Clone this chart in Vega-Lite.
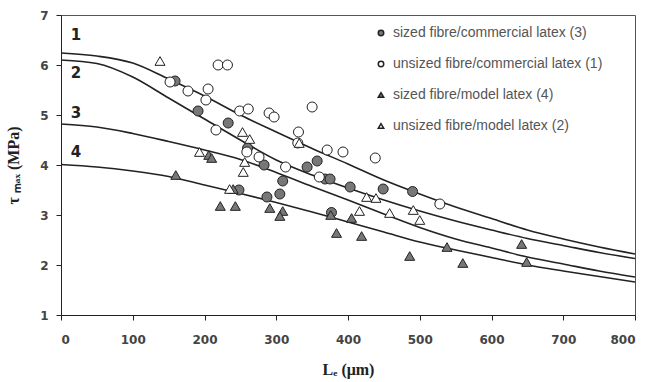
{
  "$schema": "https://vega.github.io/schema/vega-lite/v6.json",
  "autosize": "none",
  "width": 574,
  "height": 300,
  "padding": {"left": 61, "top": 15, "right": 14, "bottom": 67},
  "background": "white",
  "config": {
    "view": {"stroke": "#555", "strokeWidth": 1},
    "axis": {"grid": false, "domainColor": "#222", "tickColor": "#222", "labelFont": "DejaVu Sans", "labelFontSize": 12, "labelFontWeight": "bold", "labelColor": "#444", "titleFont": "Liberation Serif", "titleFontSize": 16, "titleFontWeight": "bold", "titleColor": "#222"}
  },
  "datasets": {
    "curves": [
      {"c": "1", "L": 0, "v": 6.24}, {"c": "1", "L": 50, "v": 6.18}, {"c": "1", "L": 100, "v": 6.04}, {"c": "1", "L": 150, "v": 5.72}, {"c": "1", "L": 200, "v": 5.38}, {"c": "1", "L": 250, "v": 5.0}, {"c": "1", "L": 300, "v": 4.66}, {"c": "1", "L": 350, "v": 4.33}, {"c": "1", "L": 400, "v": 4.02}, {"c": "1", "L": 450, "v": 3.7}, {"c": "1", "L": 500, "v": 3.42}, {"c": "1", "L": 550, "v": 3.16}, {"c": "1", "L": 600, "v": 2.93}, {"c": "1", "L": 650, "v": 2.7}, {"c": "1", "L": 700, "v": 2.52}, {"c": "1", "L": 750, "v": 2.36}, {"c": "1", "L": 800, "v": 2.22},
      {"c": "2", "L": 0, "v": 6.1}, {"c": "2", "L": 50, "v": 6.03}, {"c": "2", "L": 100, "v": 5.76}, {"c": "2", "L": 150, "v": 5.34}, {"c": "2", "L": 200, "v": 4.92}, {"c": "2", "L": 250, "v": 4.5}, {"c": "2", "L": 300, "v": 4.1}, {"c": "2", "L": 350, "v": 3.8}, {"c": "2", "L": 400, "v": 3.54}, {"c": "2", "L": 450, "v": 3.3}, {"c": "2", "L": 500, "v": 3.08}, {"c": "2", "L": 550, "v": 2.88}, {"c": "2", "L": 600, "v": 2.7}, {"c": "2", "L": 650, "v": 2.53}, {"c": "2", "L": 700, "v": 2.39}, {"c": "2", "L": 750, "v": 2.25}, {"c": "2", "L": 800, "v": 2.13},
      {"c": "3", "L": 0, "v": 4.82}, {"c": "3", "L": 50, "v": 4.76}, {"c": "3", "L": 100, "v": 4.63}, {"c": "3", "L": 150, "v": 4.47}, {"c": "3", "L": 200, "v": 4.3}, {"c": "3", "L": 250, "v": 4.11}, {"c": "3", "L": 300, "v": 3.85}, {"c": "3", "L": 350, "v": 3.57}, {"c": "3", "L": 400, "v": 3.3}, {"c": "3", "L": 450, "v": 3.02}, {"c": "3", "L": 500, "v": 2.75}, {"c": "3", "L": 550, "v": 2.52}, {"c": "3", "L": 600, "v": 2.34}, {"c": "3", "L": 650, "v": 2.16}, {"c": "3", "L": 700, "v": 2.02}, {"c": "3", "L": 750, "v": 1.88}, {"c": "3", "L": 800, "v": 1.76},
      {"c": "4", "L": 0, "v": 4.01}, {"c": "4", "L": 50, "v": 3.96}, {"c": "4", "L": 100, "v": 3.88}, {"c": "4", "L": 150, "v": 3.77}, {"c": "4", "L": 200, "v": 3.6}, {"c": "4", "L": 250, "v": 3.43}, {"c": "4", "L": 300, "v": 3.25}, {"c": "4", "L": 350, "v": 3.06}, {"c": "4", "L": 400, "v": 2.86}, {"c": "4", "L": 450, "v": 2.66}, {"c": "4", "L": 500, "v": 2.46}, {"c": "4", "L": 550, "v": 2.3}, {"c": "4", "L": 600, "v": 2.15}, {"c": "4", "L": 650, "v": 2.0}, {"c": "4", "L": 700, "v": 1.88}, {"c": "4", "L": 750, "v": 1.77}, {"c": "4", "L": 800, "v": 1.66}
    ],
    "points": [
      {"s": "sized fibre/commercial latex (3)", "L": 159, "v": 5.68},
      {"s": "sized fibre/commercial latex (3)", "L": 191, "v": 5.08},
      {"s": "sized fibre/commercial latex (3)", "L": 233, "v": 4.84},
      {"s": "sized fibre/commercial latex (3)", "L": 260, "v": 4.34},
      {"s": "sized fibre/commercial latex (3)", "L": 283, "v": 4.0},
      {"s": "sized fibre/commercial latex (3)", "L": 309, "v": 3.68},
      {"s": "sized fibre/commercial latex (3)", "L": 343, "v": 3.96},
      {"s": "sized fibre/commercial latex (3)", "L": 357, "v": 4.08},
      {"s": "sized fibre/commercial latex (3)", "L": 368, "v": 3.72},
      {"s": "sized fibre/commercial latex (3)", "L": 375, "v": 3.72},
      {"s": "sized fibre/commercial latex (3)", "L": 403, "v": 3.56},
      {"s": "sized fibre/commercial latex (3)", "L": 449, "v": 3.52},
      {"s": "sized fibre/commercial latex (3)", "L": 490, "v": 3.47},
      {"s": "sized fibre/commercial latex (3)", "L": 377, "v": 3.05},
      {"s": "sized fibre/commercial latex (3)", "L": 248, "v": 3.5},
      {"s": "sized fibre/commercial latex (3)", "L": 287, "v": 3.36},
      {"s": "sized fibre/commercial latex (3)", "L": 305, "v": 3.42},
      {"s": "unsized fibre/commercial latex (1)", "L": 152, "v": 5.66},
      {"s": "unsized fibre/commercial latex (1)", "L": 177, "v": 5.48},
      {"s": "unsized fibre/commercial latex (1)", "L": 205, "v": 5.52},
      {"s": "unsized fibre/commercial latex (1)", "L": 202, "v": 5.3},
      {"s": "unsized fibre/commercial latex (1)", "L": 216, "v": 4.7},
      {"s": "unsized fibre/commercial latex (1)", "L": 219, "v": 6.0},
      {"s": "unsized fibre/commercial latex (1)", "L": 232, "v": 6.0},
      {"s": "unsized fibre/commercial latex (1)", "L": 249, "v": 5.08},
      {"s": "unsized fibre/commercial latex (1)", "L": 261, "v": 5.12},
      {"s": "unsized fibre/commercial latex (1)", "L": 259, "v": 4.26},
      {"s": "unsized fibre/commercial latex (1)", "L": 276, "v": 4.16},
      {"s": "unsized fibre/commercial latex (1)", "L": 290, "v": 5.04},
      {"s": "unsized fibre/commercial latex (1)", "L": 297, "v": 4.96},
      {"s": "unsized fibre/commercial latex (1)", "L": 313, "v": 3.96},
      {"s": "unsized fibre/commercial latex (1)", "L": 331, "v": 4.66},
      {"s": "unsized fibre/commercial latex (1)", "L": 330, "v": 4.44},
      {"s": "unsized fibre/commercial latex (1)", "L": 350, "v": 5.16},
      {"s": "unsized fibre/commercial latex (1)", "L": 360, "v": 3.76},
      {"s": "unsized fibre/commercial latex (1)", "L": 371, "v": 4.3},
      {"s": "unsized fibre/commercial latex (1)", "L": 393, "v": 4.26},
      {"s": "unsized fibre/commercial latex (1)", "L": 438, "v": 4.14},
      {"s": "unsized fibre/commercial latex (1)", "L": 528, "v": 3.22},
      {"s": "sized fibre/model latex (4)", "L": 160, "v": 3.8},
      {"s": "sized fibre/model latex (4)", "L": 206, "v": 4.2},
      {"s": "sized fibre/model latex (4)", "L": 210, "v": 4.14},
      {"s": "sized fibre/model latex (4)", "L": 222, "v": 3.18},
      {"s": "sized fibre/model latex (4)", "L": 243, "v": 3.18},
      {"s": "sized fibre/model latex (4)", "L": 240, "v": 3.52},
      {"s": "sized fibre/model latex (4)", "L": 291, "v": 3.14},
      {"s": "sized fibre/model latex (4)", "L": 309, "v": 3.08},
      {"s": "sized fibre/model latex (4)", "L": 305, "v": 2.98},
      {"s": "sized fibre/model latex (4)", "L": 376, "v": 3.0},
      {"s": "sized fibre/model latex (4)", "L": 384, "v": 2.64},
      {"s": "sized fibre/model latex (4)", "L": 405, "v": 2.94},
      {"s": "sized fibre/model latex (4)", "L": 419, "v": 2.58},
      {"s": "sized fibre/model latex (4)", "L": 486, "v": 2.18},
      {"s": "sized fibre/model latex (4)", "L": 538, "v": 2.36},
      {"s": "sized fibre/model latex (4)", "L": 560, "v": 2.04},
      {"s": "sized fibre/model latex (4)", "L": 642, "v": 2.42},
      {"s": "sized fibre/model latex (4)", "L": 649, "v": 2.06},
      {"s": "unsized fibre/model latex (2)", "L": 138, "v": 6.08},
      {"s": "unsized fibre/model latex (2)", "L": 193, "v": 4.26},
      {"s": "unsized fibre/model latex (2)", "L": 253, "v": 4.66},
      {"s": "unsized fibre/model latex (2)", "L": 263, "v": 4.52},
      {"s": "unsized fibre/model latex (2)", "L": 256, "v": 4.06},
      {"s": "unsized fibre/model latex (2)", "L": 254, "v": 3.86},
      {"s": "unsized fibre/model latex (2)", "L": 235, "v": 3.52},
      {"s": "unsized fibre/model latex (2)", "L": 332, "v": 4.44},
      {"s": "unsized fibre/model latex (2)", "L": 426, "v": 3.36},
      {"s": "unsized fibre/model latex (2)", "L": 439, "v": 3.34},
      {"s": "unsized fibre/model latex (2)", "L": 416, "v": 3.08},
      {"s": "unsized fibre/model latex (2)", "L": 458, "v": 3.04},
      {"s": "unsized fibre/model latex (2)", "L": 491, "v": 3.1},
      {"s": "unsized fibre/model latex (2)", "L": 500, "v": 2.9}
    ],
    "labels": [
      {"t": "1", "L": 21, "v": 6.6},
      {"t": "2", "L": 21, "v": 5.84},
      {"t": "3", "L": 21, "v": 5.04},
      {"t": "4", "L": 21, "v": 4.26}
    ]
  },
  "layer": [
    {
      "data": {"name": "curves"},
      "mark": {"type": "line", "interpolate": "monotone", "color": "#222", "strokeWidth": 1.6},
      "encoding": {
        "x": {"field": "L", "type": "quantitative", "scale": {"domain": [0, 800], "nice": false}, "axis": {"values": [0, 100, 200, 300, 400, 500, 600, 700, 800], "tickSize": 5, "labelPadding": 14, "title": "Lₑ (μm)", "titlePadding": 16}},
        "y": {"field": "v", "type": "quantitative", "scale": {"domain": [1, 7], "nice": false}, "axis": {"values": [1, 2, 3, 4, 5, 6, 7], "tickSize": 5, "labelPadding": 8, "title": "τ ₘₐₓ (MPa)", "titlePadding": 18}},
        "detail": {"field": "c"}
      }
    },
    {
      "data": {"name": "points"},
      "mark": {"type": "point", "filled": true, "strokeWidth": 1, "size": 100, "opacity": 1},
      "encoding": {
        "x": {"field": "L", "type": "quantitative"},
        "y": {"field": "v", "type": "quantitative"},
        "shape": {"field": "s", "type": "nominal", "scale": {"domain": ["sized fibre/commercial latex (3)", "unsized fibre/commercial latex (1)", "sized fibre/model latex (4)", "unsized fibre/model latex (2)"], "range": ["circle", "circle", "triangle-up", "triangle-up"]}, "legend": {"title": null, "orient": "none", "legendX": 313, "legendY": 11, "symbolSize": 30, "symbolStrokeWidth": 1.5, "labelFont": "Liberation Sans", "labelFontSize": 14, "labelColor": "#555", "labelLimit": 400, "rowPadding": 17, "labelOffset": 5}},
        "fill": {"field": "s", "type": "nominal", "scale": {"domain": ["sized fibre/commercial latex (3)", "unsized fibre/commercial latex (1)", "sized fibre/model latex (4)", "unsized fibre/model latex (2)"], "range": ["#777777", "white", "#777777", "white"]}},
        "stroke": {"field": "s", "type": "nominal", "scale": {"domain": ["sized fibre/commercial latex (3)", "unsized fibre/commercial latex (1)", "sized fibre/model latex (4)", "unsized fibre/model latex (2)"], "range": ["#222222", "#222222", "#222222", "#222222"]}}
      }
    },
    {
      "data": {"name": "labels"},
      "mark": {"type": "text", "font": "DejaVu Sans", "fontWeight": "bold", "fontSize": 15, "color": "#222"},
      "encoding": {
        "x": {"field": "L", "type": "quantitative"},
        "y": {"field": "v", "type": "quantitative"},
        "text": {"field": "t"}
      }
    }
  ]
}
